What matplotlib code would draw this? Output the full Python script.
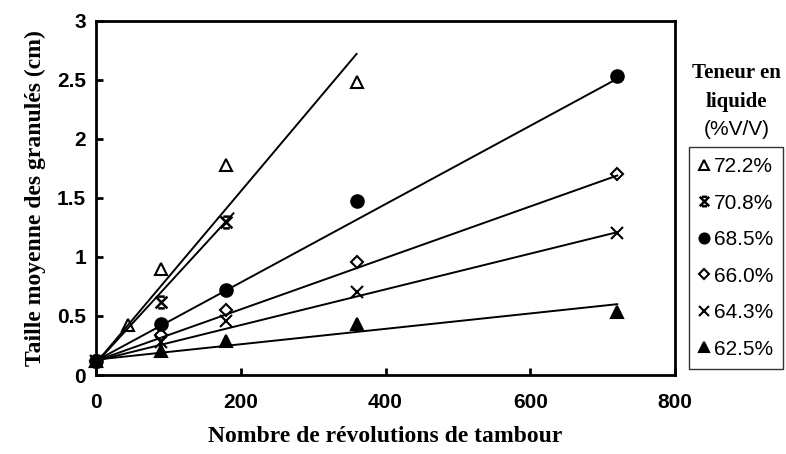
import matplotlib
matplotlib.use("Agg")
import matplotlib.pyplot as plt
from matplotlib.path import Path
import numpy as np

# ---- data ----
series_labels = ["72.2%", "70.8%", "68.5%", "66.0%", "64.3%", "62.5%"]
x_722 = [0, 45, 90, 180, 360]
y_722 = [0.12, 0.42, 0.90, 1.78, 2.48]
x_708 = [0, 90, 180]
y_708 = [0.12, 0.62, 1.30]
x_685 = [0, 90, 180, 360, 720]
y_685 = [0.12, 0.43, 0.72, 1.47, 2.53]
x_660 = [0, 90, 180, 360, 720]
y_660 = [0.12, 0.34, 0.55, 0.96, 1.70]
x_643 = [0, 90, 180, 360, 720]
y_643 = [0.12, 0.28, 0.46, 0.70, 1.20]
x_625 = [0, 90, 180, 360, 720]
y_625 = [0.12, 0.20, 0.29, 0.43, 0.53]

# fitted lines: start / end points
fit_x0 = [0, 0, 0, 0, 0, 0]
fit_y0 = [0.10, 0.10, 0.12, 0.12, 0.12, 0.13]
fit_x1 = [360, 190, 720, 720, 720, 720]
fit_y1 = [2.72, 1.37, 2.51, 1.69, 1.21, 0.60]

x_ticks = [0, 200, 400, 600, 800]
y_ticks = [0, 0.5, 1, 1.5, 2, 2.5, 3]
y_ticklabels = ["0", "0.5", "1", "1.5", "2", "2.5", "3"]

# ---- figure ----
fig = plt.figure(figsize=(7.86, 4.54), dpi=100)
ax = fig.add_axes([0.122, 0.174, 0.737, 0.780])

star_path = Path(
    [(-1, -1), (1, 1), (-1, 1), (1, -1), (-0.55, 1), (0.55, 1), (-0.55, -1), (0.55, -1)],
    [Path.MOVETO, Path.LINETO, Path.MOVETO, Path.LINETO,
     Path.MOVETO, Path.LINETO, Path.MOVETO, Path.LINETO])

xs = [x_722, x_708, x_685, x_660, x_643, x_625]
ys = [y_722, y_708, y_685, y_660, y_643, y_625]
markers = ['^', star_path, 'o', 'D', 'x', '^']
facecolors = ['none', 'black', 'black', 'none', 'black', 'black']
sizes = [8.5, 8.5, 9, 6.5, 8.5, 8.5]

for i in range(6):
    ax.plot([fit_x0[i], fit_x1[i]], [fit_y0[i], fit_y1[i]], color='black', lw=1.4, zorder=2)

handles = []
for i in range(6):
    h, = ax.plot(xs[i], ys[i], linestyle='none', marker=markers[i], ms=sizes[i],
                 mfc=facecolors[i], mec='black', mew=1.8 if i == 1 else 1.5, color='black',
                 label=series_labels[i], zorder=3, clip_on=False)
    handles.append(h)

ax.set_xlim(0, 800)
ax.set_ylim(0, 3)
ax.set_xticks(x_ticks)
ax.set_yticks(y_ticks)
ax.set_yticklabels(y_ticklabels)
for s in ax.spines.values():
    s.set_linewidth(2)
ax.tick_params(axis='both', direction='in', length=5, width=2)
ax.tick_params(axis='x', pad=13)
ax.tick_params(axis='y', pad=7)
for lab in ax.get_xticklabels() + ax.get_yticklabels():
    lab.set_fontfamily('Liberation Sans')
    lab.set_fontweight('bold')
    lab.set_fontsize(15)

ax.set_xlabel("Nombre de révolutions de tambour", fontfamily='Liberation Serif',
              fontweight='bold', fontsize=17, labelpad=10)
ax.set_ylabel("Taille moyenne des granulés (cm)", fontfamily='Liberation Serif',
              fontweight='bold', fontsize=17, labelpad=8)

fig.text(0.937, 0.839, "Teneur en", ha='center', va='center',
         fontfamily='Liberation Serif', fontweight='bold', fontsize=15)
fig.text(0.937, 0.775, "liquide", ha='center', va='center',
         fontfamily='Liberation Serif', fontweight='bold', fontsize=15)
fig.text(0.937, 0.714, "(%V/V)", ha='center', va='center',
         fontfamily='Liberation Sans', fontsize=15)

leg = fig.legend(handles=handles, labels=series_labels, loc='upper left',
                 bbox_to_anchor=(0.876, 0.677), frameon=True, fancybox=False,
                 prop={'family': 'Liberation Sans', 'size': 15},
                 handlelength=0.5, handletextpad=0.2, labelspacing=0.84,
                 borderpad=0.5, borderaxespad=0, markerscale=0.8)
leg.get_frame().set_edgecolor('black')
leg.get_frame().set_linewidth(1.0)

fig.savefig("out.png", dpi=100, facecolor='white')
